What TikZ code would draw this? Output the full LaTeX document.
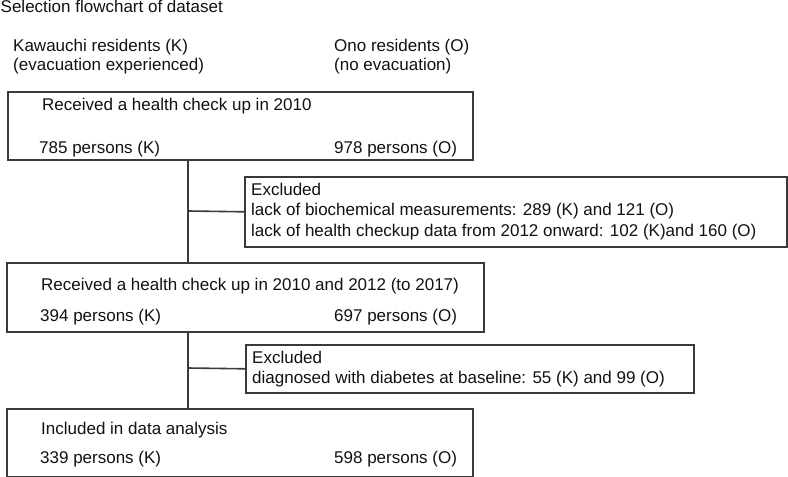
\documentclass[tikz,border=0pt]{standalone}
\usepackage{fontspec}
\setmainfont{Liberation Sans}
\definecolor{linecol}{HTML}{3A3A3A}
\definecolor{txtcol}{HTML}{111111}
\begin{document}
\begin{tikzpicture}[x=1pt,y=-1pt,
  boxstyle/.style={draw=linecol, line width=1.6pt, rectangle, inner sep=0pt, anchor=north west},
  txt/.style={anchor=base west, inner sep=0pt, text=txtcol, font=\fontsize{17}{20}\selectfont},
  conn/.style={draw=linecol, line width=1.6pt}]
\useasboundingbox (0,0) rectangle (788,477);
% title and headings
\node[txt] (title) at (0.5,12) {Selection flowchart of dataset};
\node[txt] (hk1) at (13,51) {Kawauchi residents (K)};
\node[txt] (hk2) at (13,70) {(evacuation experienced)};
\node[txt] (ho1) at (334,51) {Ono residents (O)};
\node[txt] (ho2) at (334,70) {(no evacuation)};
% boxes
\node[boxstyle, minimum width=465pt, minimum height=68pt] (b1) at (7,91) {};
\node[boxstyle, minimum width=542pt, minimum height=70pt] (e1) at (244,176) {};
\node[boxstyle, minimum width=477pt, minimum height=69pt] (b3) at (6,262) {};
\node[boxstyle, minimum width=448pt, minimum height=48pt] (e2) at (245,344) {};
\node[boxstyle, minimum width=466pt, minimum height=68pt] (b5) at (6,408) {};
% box texts
\node[txt] (t1a) at (42,110) {Received a health check up in 2010};
\node[txt] (t1b) at (39,153) {785 persons (K)};
\node[txt] (t1c) at (334,153) {978 persons (O)};
\node[txt] (te1a) at (251,195) {Excluded};
\node[txt] (te1b) at (251,215.5) {lack of biochemical measurements: 289 (K) and 121 (O)};
\node[txt] (te1c) at (251,236) {lack of health checkup data from 2012 onward: 102 (K)and 160 (O)};
\node[txt] (t3a) at (41,290) {Received a health check up in 2010 and 2012 (to 2017)};
\node[txt] (t3b) at (40,321) {394 persons (K)};
\node[txt] (t3c) at (334,321) {697 persons (O)};
\node[txt] (te2a) at (252,363) {Excluded};
\node[txt] (te2b) at (252,383) {diagnosed with diabetes at baseline: 55 (K) and 99 (O)};
\node[txt] (t5a) at (41,434) {Included in data analysis};
\node[txt] (t5b) at (40,463) {339 persons (K)};
\node[txt] (t5c) at (334,463) {598 persons (O)};
% connectors
\coordinate (j1) at (188,211);
\coordinate (j2) at (188,368);
\draw[conn] (b1.south -| j1) -- (b3.north -| j1);
\draw[conn] (j1) -- (e1.west);
\draw[conn] (b3.south -| j2) -- (b5.north -| j2);
\draw[conn] (j2) -- (e2.west);
\end{tikzpicture}
\end{document}
